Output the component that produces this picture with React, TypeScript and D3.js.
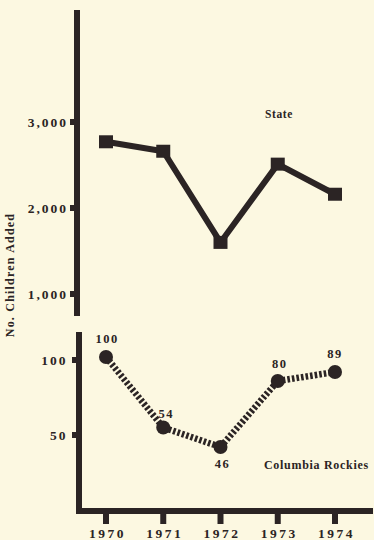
import React from "react";
import * as d3 from "d3";

const years = ["1970", "1971", "1972", "1973", "1974"];
const stateValues = [2770, 2660, 1600, 2510, 2160];
const rockiesValues = [102, 55, 42, 86, 92];
const rockiesLabels = ["100", "54", "46", "80", "89"];
const stateTicks = [1000, 2000, 3000];
const rockiesTicks = [50, 100];

const W = 374;
const H = 540;
const INK = "#2b2424";
const BG = "#fcf8e1";
const FONT = "'Liberation Serif', 'DejaVu Serif', serif";

export default function App() {
  const x = d3.scalePoint<string>().domain(years).range([106, 335]);
  const yTop = d3.scaleLinear().domain([1000, 3000]).range([294, 122]);
  const yBot = d3.scaleLinear().domain([0, 100]).range([510, 360]);

  const topLine = d3
    .line<number>()
    .x((_, i) => x(years[i])!)
    .y((d) => yTop(d));
  const botLine = d3
    .line<number>()
    .x((_, i) => x(years[i])!)
    .y((d) => yBot(d));

  // label offsets (dx, dy) relative to points
  const labelPos = [
    [0, -14],
    [2, -10],
    [1, 21],
    [1, -13],
    [-1, -14],
  ];

  return (
    <svg
      width={W}
      height={H}
      style={{ position: "fixed", left: 0, top: 0, background: BG }}
      fontFamily={FONT}
      fontWeight="bold"
    >
      <rect width={W} height={H} fill={BG} />
      {/* Top panel axis */}
      <line x1={77} x2={77} y1={10} y2={316} stroke={INK} strokeWidth={6} />
      {stateTicks.map((t) => (
        <g key={t}>
          <rect x={70} y={yTop(t) - 3} width={6} height={6} fill={INK} />
          <text
            x={68}
            y={yTop(t)}
            dy="0.35em"
            textAnchor="end"
            fontSize={13.5}
            letterSpacing={2}
            fill={INK}
          >
            {d3.format(",")(t)}
          </text>
        </g>
      ))}
      <path
        d={topLine(stateValues)!}
        fill="none"
        stroke={INK}
        strokeWidth={6}
        strokeLinejoin="miter"
      />
      {stateValues.map((v, i) => (
        <rect
          key={i}
          x={x(years[i])! - 7}
          y={yTop(v) - 6.5}
          width={14}
          height={13}
          fill={INK}
        />
      ))}
      <text x={265} y={118} fontSize={11.5} letterSpacing={0.6} fill={INK}>
        State
      </text>

      {/* Bottom panel axes */}
      <line x1={79} x2={79} y1={332} y2={514} stroke={INK} strokeWidth={6} />
      <line x1={76} x2={373} y1={511} y2={511} stroke={INK} strokeWidth={6} />
      {rockiesTicks.map((t) => (
        <g key={t}>
          <rect x={72} y={yBot(t) - 3} width={6} height={6} fill={INK} />
          <text
            x={67.5}
            y={yBot(t)}
            dy="0.35em"
            textAnchor="end"
            fontSize={13.5}
            letterSpacing={2}
            fill={INK}
          >
            {t}
          </text>
        </g>
      ))}
      {years.map((yr) => (
        <g key={yr}>
          <rect x={x(yr)! - 3} y={513} width={6} height={11} fill={INK} />
          <text
            x={x(yr)! + 1.5}
            y={538}
            textAnchor="middle"
            fontSize={13.5}
            letterSpacing={2.5}
            fill={INK}
          >
            {yr}
          </text>
        </g>
      ))}
      <path
        d={botLine(rockiesValues)!}
        fill="none"
        stroke={INK}
        strokeWidth={6.5}
        strokeDasharray="2.6 2"
      />
      {rockiesValues.map((v, i) => (
        <circle key={i} cx={x(years[i])!} cy={yBot(v)} r={7} fill={INK} />
      ))}
      {rockiesValues.map((v, i) => (
        <text
          key={"l" + i}
          x={x(years[i])! + labelPos[i][0] + 1}
          y={yBot(v) + labelPos[i][1]}
          textAnchor="middle"
          fontSize={12.5}
          letterSpacing={1.5}
          fill={INK}
        >
          {rockiesLabels[i]}
        </text>
      ))}
      <text x={264} y={469} fontSize={12} letterSpacing={0.7} fill={INK}>
        Columbia Rockies
      </text>

      {/* Y axis title */}
      <text
        transform="translate(14,275) rotate(-90)"
        textAnchor="middle"
        fontSize={12}
        letterSpacing={1.2}
        fill={INK}
      >
        No. Children Added
      </text>
    </svg>
  );
}
